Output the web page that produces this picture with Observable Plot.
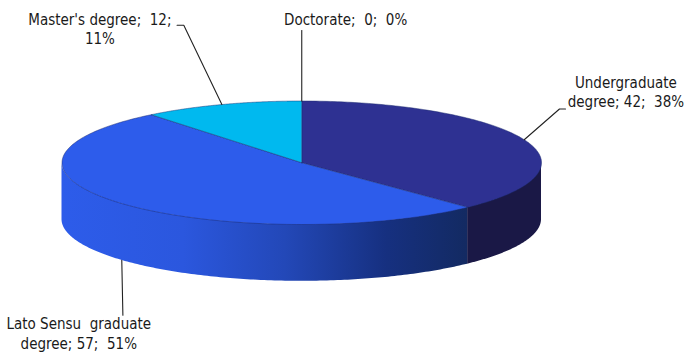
<!DOCTYPE html>
<html>
<head>
<meta charset="utf-8">
<script src="https://cdn.jsdelivr.net/npm/d3@7"></script>
<script src="https://cdn.jsdelivr.net/npm/@observablehq/plot@0.6"></script>
<style>
  html, body { margin: 0; padding: 0; background: #fff; }
  svg { display: block; }
</style>
</head>
<body>
<div id="chart"></div>
<script>
// Slices, clockwise from twelve o'clock.
const categories = ["Undergraduate degree", "Lato Sensu graduate degree", "Master's degree", "Doctorate"];
const counts = [42, 57, 12, 0];
const percents = [38, 51, 11, 0];
const topColors = ["#2e3192", "#2d5ceb", "#00b9ef", "#4a4fb0"];

const labelLines = [
  "Undergraduate\ndegree; 42;  38%",
  "Lato Sensu  graduate\ndegree; 57;  51%",
  "Master's degree;  12;\n11%",
  "Doctorate;  0;  0%"
];
// Label centres and leader elbows, in disc units (disc radius = 1 on each axis).
const labelX = [1.352, -0.93, -0.842, 0.183];
const labelY = [1.16, -2.755, 2.18, 2.33];
const elbowX = [[1.075, 1.10], [-0.746], [-0.492, -0.52], [0]];
const elbowY = [[0.87, 0.87], [-2.47], [2.226, 2.226], [2.14]];

const depth = 0.92;   // height of the disc wall, in disc units
const total = d3.sum(counts);

const point = (theta, drop = 0) => ({x: Math.sin(theta), y: Math.cos(theta) - drop});

// Angular extent of each slice.
let running = 0;
const slices = categories.map((name, i) => {
  const start = running / total * 2 * Math.PI;
  running += counts[i];
  const end = running / total * 2 * Math.PI;
  return {name, start, end, mid: (start + end) / 2, index: i};
});

const arc = (a, b, n = 160) => d3.range(n + 1).map(k => a + (b - a) * k / n);

const sliceOutline = s => [{x: 0, y: 0}, ...arc(s.start, s.end).map(t => point(t)), {x: 0, y: 0}];

const wall = (a, b) => arc(a, b).map(t => ({x: Math.sin(t), y1: Math.cos(t), y2: Math.cos(t) - depth}));

// Only the front of the wall is visible: it stops at the disc's left extreme.
const undergrad = slices[0], lato = slices[1];
const undergradWall = wall(Math.PI / 2, undergrad.end);
const latoWall = wall(lato.start, 1.5 * Math.PI);

// Leaders start on the slice's mid-angle, on the rim or on the wall's lower edge.
const leaders = slices.map((s, i) => {
  const rim = point(s.mid, i === 1 ? depth : 0);
  const bend = elbowX[i].map((x, k) => ({x, y: elbowY[i][k]}));
  return [rim, ...bend];
});

const wallGradient = () => {
  const defs = d3.create("svg:defs");
  const g = defs.append("linearGradient").attr("id", "latoWall");
  [[0, "#2d5cea"], [0.3, "#2b57de"], [0.55, "#2348b8"], [0.8, "#163080"], [1, "#132a62"]]
    .forEach(([o, c]) => g.append("stop").attr("offset", o).attr("stop-color", c));
  return defs.node();
};

const chart = Plot.plot({
  width: 684,
  height: 353,
  margin: 0,
  x: {domain: [-1, 1], range: [61.5, 541], axis: null},
  y: {domain: [-1, 1], range: [224, 100.5], axis: null},
  style: {background: "#fff", whiteSpace: "pre"},
  marks: [
    wallGradient,
    Plot.areaY(undergradWall, {x: "x", y1: "y1", y2: "y2", fill: "#1a1846"}),
    Plot.areaY(latoWall, {x: "x", y1: "y1", y2: "y2", fill: "url(#latoWall)"}),
    ...slices.filter(s => s.end > s.start).map(s =>
      Plot.line(sliceOutline(s), {
        x: "x", y: "y",
        fill: topColors[s.index],
        stroke: "#1c2a6e",
        strokeWidth: 0.6,
        strokeOpacity: 0.8
      })
    ),
    ...leaders.map(path =>
      Plot.line(path, {x: "x", y: "y", stroke: "#222", strokeWidth: 1.1})
    ),
    Plot.text(labelLines, {
      x: (d, i) => labelX[i],
      y: (d, i) => labelY[i],
      text: d => d,
      fontFamily: "'DejaVu Sans', sans-serif",
      fontSize: 15,
      lineHeight: 1.28,
      fill: "#1a1a1a"
    })
  ]
});
// The labels use the condensed cut of the typeface.
chart.querySelectorAll("text").forEach(t => t.style.fontStretch = "condensed");
document.getElementById("chart").append(chart);
</script>
</body>
</html>
